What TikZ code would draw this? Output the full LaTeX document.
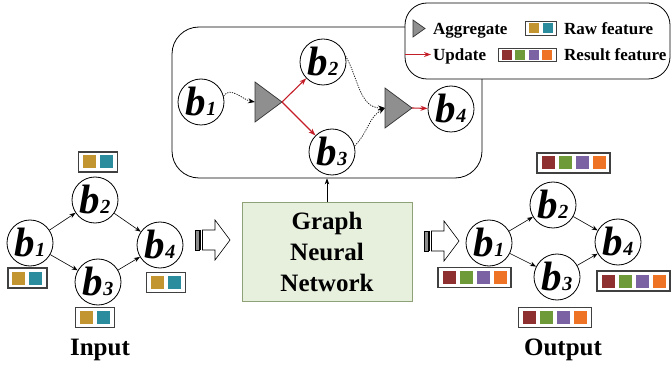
\documentclass[tikz,border=0pt]{standalone}
\usepackage{fontspec}
\setmainfont{Liberation Serif}[BoldFont={Liberation Serif Bold}, ItalicFont={Liberation Serif Italic}, BoldItalicFont={Liberation Serif Bold Italic}]
\usetikzlibrary{arrows.meta}

\definecolor{rawA}{HTML}{C39530}
\definecolor{rawB}{HTML}{2A8C9C}
\definecolor{resA}{HTML}{8E3030}
\definecolor{resB}{HTML}{6F9A3A}
\definecolor{resC}{HTML}{7B62A3}
\definecolor{resD}{HTML}{EE7324}
\definecolor{upd}{HTML}{C41E28}
\definecolor{gnnfill}{HTML}{E7EFDD}
\definecolor{gnnline}{HTML}{8FA277}
\definecolor{aggfill}{HTML}{8F8F8F}

% one coloured square of a feature vector
\newcommand{\fsq}[2]{\textcolor{#1}{\rule{#2}{#2}}}
\newcommand{\rawfeat}[2]{\fsq{rawA}{#1}\hspace{#2}\fsq{rawB}{#1}}
\newcommand{\resfeat}[2]{\fsq{resA}{#1}\hspace{#2}\fsq{resB}{#1}\hspace{#2}\fsq{resC}{#1}\hspace{#2}\fsq{resD}{#1}}
% vertex label b_i
\newcommand{\bl}[1]{{\fontsize{41}{41}\selectfont\bfseries\itshape b}\kern0.3pt{\fontsize{20}{20}\selectfont\bfseries\itshape #1}}
% striped block arrow, left end at the origin of the scope
\newcommand{\stripedarrow}{%
  \draw[line width=0.6pt, fill=black!45] (0,-10) rectangle (4,10);
  \draw[line width=0.6pt] (5.5,-10) -- (5.5,10);
  \draw[line width=0.6pt, fill=white] (7.5,-10) -- (20,-10) -- (20,-20) -- (35,0)
        -- (20,20) -- (20,10) -- (7.5,10) -- cycle;}

\begin{document}
\begin{tikzpicture}[x=1pt, y=-1pt,
  bcirc/.style={circle, draw, line width=0.8pt, minimum size=46pt, inner sep=0pt, fill=white},
  featbox/.style={draw=black!75, line width=1.1pt, inner xsep=4.5pt, inner ysep=3.5pt, fill=white},
  legfeat/.style={draw=black!75, line width=0.9pt, inner xsep=4pt, inner ysep=1.8pt, fill=white},
  edge/.style={-{Stealth[length=6pt,width=4.5pt]}, line width=0.6pt},
  updarrow/.style={upd, line width=1.1pt, -{Stealth[length=7pt,width=5pt]}},
  aggarrow/.style={dash pattern=on 1.2pt off 1.2pt, line width=0.7pt, -{Stealth[length=7pt,width=5pt]}},
  aggtri/.style={draw=black!80, line width=0.7pt, fill=aggfill},
  bigtext/.style={font=\fontsize{25}{31}\selectfont\bfseries},
  legtext/.style={font=\fontsize{17}{17}\selectfont\bfseries, inner sep=0pt, anchor=base west}]

\useasboundingbox (0,0) rectangle (672,366);

% ---------- message-passing panel ----------
\node[draw, line width=0.8pt, rounded corners=27pt, minimum width=310pt, minimum height=151pt] (panel) at (327,102.5) {};

\node[bcirc] (p1) at (201,102) {\bl{1}};
\node[bcirc] (p2) at (323,62) {\bl{2}};
\node[bcirc] (p3) at (332,152) {\bl{3}};
\node[bcirc] (p4) at (451,109) {\bl{4}};

\coordinate (a1in) at (255,102);
\coordinate (a1tip) at (282,102);
\coordinate (a2in) at (385,108);
\coordinate (a2tip) at (412,108);

\draw[aggarrow] (p1.15) to[out=55, in=170] (a1in);
\draw[aggarrow] (p2.15) to[out=-60, in=180] (a2in);
\draw[aggarrow] (p3.15) to[out=45, in=-150] (a2in);
\draw[aggtri] (255,82) -- (a1tip) -- (255,122) -- cycle;
\draw[aggtri] (385,88) -- (a2tip) -- (385,128) -- cycle;
\draw[updarrow] (a1tip) -- (p2);
\draw[updarrow] (a1tip) -- (p3);
\draw[updarrow] (a2tip) -- (p4);

% ---------- legend ----------
\node[draw, line width=0.8pt, rounded corners=22pt, fill=white, minimum width=265pt, minimum height=76pt] (legend) at (537.5,41) {};
\coordinate (lt) at (425,28.5);
\draw[aggtri] (413,20) -- (lt) -- (413,37) -- cycle;
\coordinate (lu0) at (405,54.5);
\coordinate (lu1) at (431,54.5);
\draw[updarrow] (lu0) -- (lu1);
\node[legtext] (lagg) at (433,35) {Aggregate};
\node[legtext] (lupd) at (433,60.5) {Update};
\node[legfeat] (lraw) at (541,28.5) {\rawfeat{10pt}{3.3pt}};
\node[legfeat] (lres) at (527,55) {\resfeat{10pt}{3.3pt}};
\node[legtext] (lrawt) at (564,35) {Raw feature};
\node[legtext] (lrest) at (564,60.5) {Result feature};

% ---------- GNN block ----------
\node[draw=gnnline, line width=1pt, fill=gnnfill, minimum width=170pt, minimum height=98pt,
      align=center, bigtext] (gnn) at (327,252) {Graph\\Neural\\Network};
\draw[edge] (gnn) -- (panel);

% ---------- input graph ----------
\node[bcirc] (i1) at (30,243) {\bl{1}};
\node[bcirc] (i2) at (95,200) {\bl{2}};
\node[bcirc] (i3) at (98,282) {\bl{3}};
\node[bcirc] (i4) at (160,245) {\bl{4}};
\draw[edge] (i1) -- (i2);
\draw[edge] (i1) -- (i3);
\draw[edge] (i2) -- (i4);
\draw[edge] (i3) -- (i4);
\node[featbox] (if2) at (98,162) {\rawfeat{13pt}{4pt}};
\node[featbox] (if1) at (27.5,278) {\rawfeat{13pt}{4pt}};
\node[featbox] (if4) at (166,282.5) {\rawfeat{13pt}{4pt}};
\node[featbox] (if3) at (95,317.5) {\rawfeat{13pt}{4pt}};
\node[bigtext, anchor=base, inner sep=0pt] (inlabel) at (100,355) {Input};

% ---------- output graph ----------
\node[bcirc] (o1) at (489,243) {\bl{1}};
\node[bcirc] (o2) at (553,205) {\bl{2}};
\node[bcirc] (o3) at (557,277) {\bl{3}};
\node[bcirc] (o4) at (618,242) {\bl{4}};
\draw[edge] (o1) -- (o2);
\draw[edge] (o1) -- (o3);
\draw[edge] (o2) -- (o4);
\draw[edge] (o3) -- (o4);
\node[featbox] (of2) at (573.5,163) {\resfeat{13pt}{4pt}};
\node[featbox] (of1) at (474.5,277.5) {\resfeat{13pt}{4pt}};
\node[featbox] (of4) at (633.5,281) {\resfeat{13pt}{4pt}};
\node[featbox] (of3) at (555,317.5) {\resfeat{13pt}{4pt}};
\node[bigtext, anchor=base, inner sep=0pt] (outlabel) at (563,355) {Output};

% ---------- striped arrows ----------
\begin{scope}[shift={(195,240)}]
  \stripedarrow
\end{scope}
\begin{scope}[shift={(424,241)}]
  \stripedarrow
\end{scope}

\end{tikzpicture}
\end{document}
